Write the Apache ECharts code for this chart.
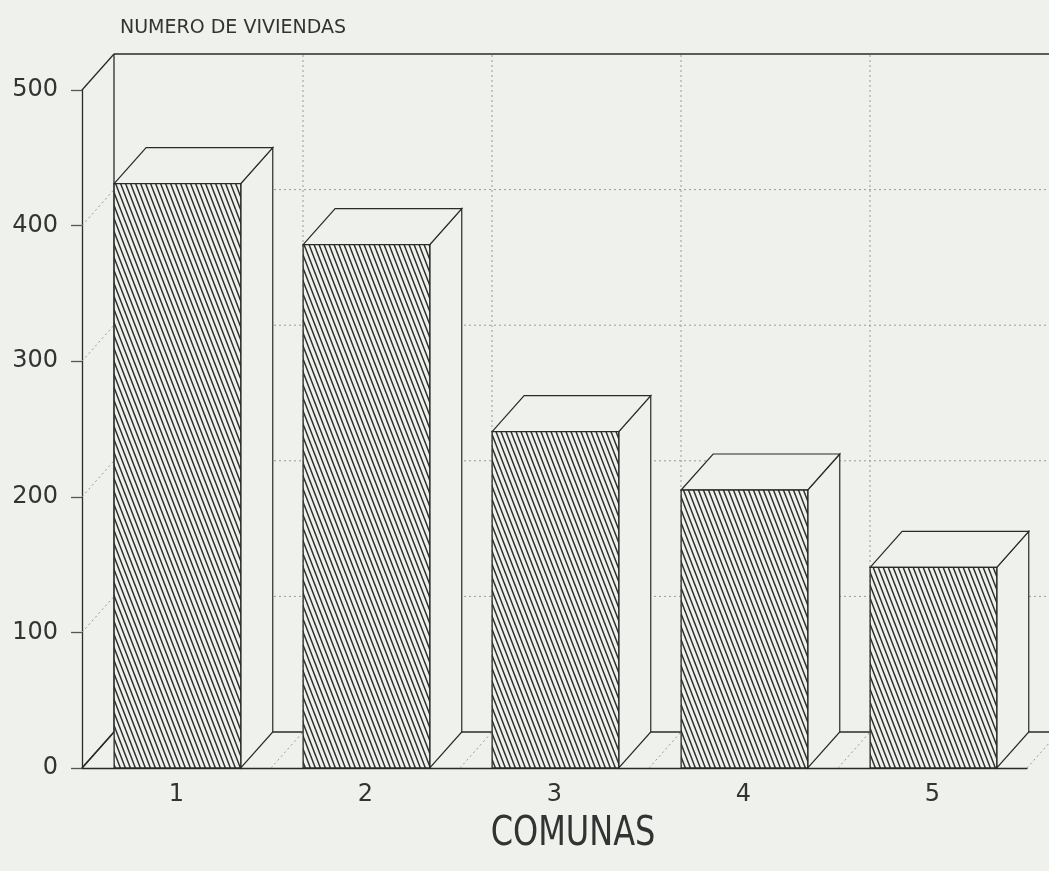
<!DOCTYPE html>
<html>
<head>
<meta charset="utf-8">
<script src="https://cdn.jsdelivr.net/npm/echarts@6/dist/echarts.min.js"></script>
<style>
html,body{margin:0;padding:0;background:#eff1ed;}
#chart{width:1049px;height:871px;}
</style>
</head>
<body>
<div id="chart"></div>
<script>
// ---- data ----
const categories = ['1', '2', '3', '4', '5'];
const viviendas = [431, 386, 248, 205, 148];
const yTicks = [0, 100, 200, 300, 400, 500];
const titleText = 'NUMERO DE VIVIENDAS';
const xAxisName = 'COMUNAS';

// ---- style ----
const BG = '#eff1ed';
const INK = '#2a2a2a';
const DX = 32, DY = -36;
const FONT = 'DejaVu Sans';

function hatchCanvas() {
  const c = document.createElement('canvas');
  c.width = 5; c.height = 13;
  const g = c.getContext('2d');
  g.fillStyle = BG; g.fillRect(0, 0, 5, 13);
  g.strokeStyle = '#2e2e2e'; g.lineWidth = 1.5;
  g.beginPath();
  for (const o of [-5, 0, 5]) { g.moveTo(o - 1, -2.6); g.lineTo(o + 6, 15.6); }
  g.stroke();
  return c;
}
const hatch = { image: hatchCanvas(), repeat: 'repeat' };

const yMax = yTicks[yTicks.length - 1];
const solidStyle = { stroke: INK, lineWidth: 1.3, fill: null };
const dotStyle = { stroke: '#9a9a9a', lineWidth: 1, lineDash: [2, 3], fill: null };

function renderHLines(params, api) {
  const v = api.value(1);
  const p0 = api.coord([0, v]);
  const band = api.size([1, 0])[0];
  const xL = p0[0] - band / 2;
  const xR = api.coord([categories.length - 1, v])[0] + band / 2;
  const y = p0[1];
  const st = (v === yMax || v === yTicks[0]) ? solidStyle : dotStyle;
  return { type: 'group', children: [
    { type: 'line', shape: { x1: xL, y1: y, x2: xL + DX, y2: y + DY }, style: st },
    { type: 'line', shape: { x1: xL + DX, y1: y + DY, x2: xR + DX, y2: y + DY }, style: st }
  ]};
}

function renderVLines(params, api) {
  const i = api.value(0);
  const c = api.coord([i, 0]);
  const band = api.size([1, 0])[0];
  const y0 = c[1];
  const yT = api.coord([i, yMax])[1];
  const bounds = [c[0] - band / 2];
  if (i === categories.length - 1) bounds.push(c[0] + band / 2);
  const children = [];
  bounds.forEach((xb, k) => {
    const st = (i === 0 && k === 0) ? solidStyle : dotStyle;
    children.push({ type: 'line', shape: { x1: xb + DX, y1: y0 + DY, x2: xb + DX, y2: yT + DY }, style: st });
    children.push({ type: 'line', shape: { x1: xb, y1: y0, x2: xb + DX, y2: y0 + DY }, style: st });
  });
  return { type: 'group', children };
}

function renderBar(params, api) {
  const i = api.value(0);
  const v = api.value(1);
  const c0 = api.coord([i, 0]);
  const c1 = api.coord([i, v]);
  const band = api.size([1, 0])[0];
  const bs = c0[0] - band / 2;
  const x1 = bs + band * 0.17;
  const x2 = bs + band * 0.84;
  const y0 = c0[1], yt = c1[1];
  const face = { fill: BG, stroke: INK, lineWidth: 1.2 };
  return { type: 'group', children: [
    { type: 'polygon', shape: { points: [[x2, yt], [x2 + DX, yt + DY], [x2 + DX, y0 + DY], [x2, y0]] }, style: face },
    { type: 'polygon', shape: { points: [[x1, yt], [x1 + DX, yt + DY], [x2 + DX, yt + DY], [x2, yt]] }, style: face },
    { type: 'rect', shape: { x: x1, y: yt, width: x2 - x1, height: y0 - yt }, style: { fill: hatch, stroke: INK, lineWidth: 1.3 } }
  ]};
}

const chart = echarts.init(document.getElementById('chart'), null, { renderer: 'canvas' });
chart.setOption({
  backgroundColor: BG,
  animation: false,
  title: {
    text: titleText, left: 115, top: 14,
    textStyle: { fontFamily: FONT, fontSize: 19, fontWeight: 'normal', color: '#333' }
  },
  grid: { left: 82, right: 22, top: 90, bottom: 103 },
  xAxis: {
    type: 'category', data: categories,
    axisLine: { show: true, lineStyle: { color: INK, width: 1.3 } },
    axisTick: { show: false },
    splitLine: { show: false },
    axisLabel: { fontFamily: FONT, fontSize: 24, color: '#333', margin: 15 }
  },
  yAxis: {
    type: 'value', min: 0, max: yMax, interval: 100,
    axisLine: { show: true, lineStyle: { color: INK, width: 1.3 } },
    axisTick: { show: true, length: 11, lineStyle: { color: '#555', width: 1.3 } },
    splitLine: { show: false },
    axisLabel: { fontFamily: FONT, fontSize: 24, color: '#333', margin: 24 }
  },
  graphic: [{
    type: 'text', x: 573, y: 834, scaleY: 1.3,
    style: { text: xAxisName, font: '32px "DejaVu Sans"', fill: '#333', textAlign: 'center', textVerticalAlign: 'middle' }
  }],
  series: [
    { type: 'custom', z: 1, renderItem: renderHLines, data: yTicks.map(v => [0, v]), silent: true },
    { type: 'custom', z: 1, renderItem: renderVLines, data: categories.map((c, i) => [i, 0]), silent: true },
    { type: 'custom', z: 3, renderItem: renderBar, data: viviendas.map((v, i) => [i, v]), silent: true }
  ]
});
</script>
</body>
</html>
